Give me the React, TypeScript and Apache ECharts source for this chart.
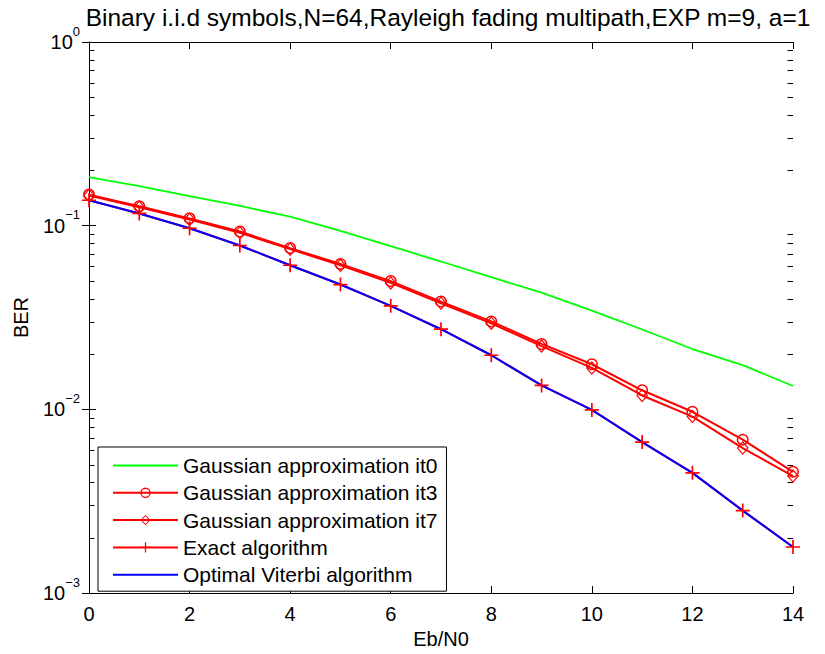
import React, { useEffect, useRef } from "react";
import * as echarts from "echarts";

const ebn0 = [0, 1, 2, 3, 4, 5, 6, 7, 8, 9, 10, 11, 12, 13, 14];
const gaussIt0 = [0.184, 0.164, 0.145, 0.128, 0.112, 0.0938, 0.0773, 0.0638, 0.0524, 0.0432, 0.0345, 0.0272, 0.0213, 0.0174, 0.0134];
const gaussIt3 = [0.1476, 0.1276, 0.1096, 0.0929, 0.0755, 0.0619, 0.0499, 0.0386, 0.0301, 0.0227, 0.0176, 0.0127, 0.0097, 0.00684, 0.00457];
const gaussIt7 = [0.146, 0.126, 0.108, 0.0915, 0.0745, 0.0608, 0.0488, 0.0378, 0.0294, 0.0221, 0.0168, 0.0119, 0.00913, 0.00615, 0.00433];
const exactAlg = [0.1375, 0.1166, 0.0968, 0.078, 0.0609, 0.0478, 0.0366, 0.0273, 0.0197, 0.0135, 0.00993, 0.00663, 0.00451, 0.00281, 0.00178];
const viterbi = [0.1375, 0.1166, 0.0968, 0.078, 0.0609, 0.0478, 0.0366, 0.0273, 0.0197, 0.0135, 0.00993, 0.00663, 0.00451, 0.00281, 0.00178];

const seriesNames = [
  "Gaussian approximation it0",
  "Gaussian approximation it3",
  "Gaussian approximation it7",
  "Exact algorithm",
  "Optimal Viterbi algorithm",
];
const titleText = "Binary i.i.d symbols,N=64,Rayleigh fading multipath,EXP m=9, a=1";
const xName = "Eb/N0";
const yName = "BER";
const xMin = 0;
const xMax = 14;
const minorMantissas = [2, 3, 4, 5, 6, 7, 8, 9];
const minorDecades = [0.001, 0.01, 0.1];

const FONT = "'Liberation Sans', Arial, Helvetica, sans-serif";

const ringPath =
  "path://M0,-6A6,6 0 1,1 0,6A6,6 0 1,1 0,-6Z M0,-4.5A4.5,4.5 0 1,0 0,4.5A4.5,4.5 0 1,0 0,-4.5Z";
const diamondPath = "path://M0,-7L6,0L0,7L-6,0Z M0,-5.2L-4.4,0L0,5.2L4.4,0Z";
const plusPath = "path://M-0.85,-7H0.85V7H-0.85Z M-7,-0.85H7V0.85H-7Z";

function pairs(ys: number[]) {
  return ebn0.map((x, i) => [x, ys[i]]);
}

export default function App() {
  const ref = useRef<HTMLDivElement>(null);
  useEffect(() => {
    if (!ref.current) return;
    const chart = echarts.init(ref.current, null, { renderer: "svg" });
    const minorData: number[][] = [];
    minorDecades.forEach((d) =>
      minorMantissas.forEach((m) => {
        minorData.push([xMin, m * d]);
        minorData.push([xMax, m * d]);
      })
    );

    const axisLine = { show: true, lineStyle: { color: "#000", width: 1 } };
    const tick = { show: true, inside: true, length: 7, lineStyle: { color: "#000", width: 1 } };
    const hideIcon = { itemStyle: { opacity: 0 } };

    const option: any = {
      animation: false,
      backgroundColor: "#fff",
      textStyle: { fontFamily: FONT, color: "#000" },
      grid: { left: 89, top: 42, right: 32, bottom: 56, containLabel: false },
      graphic: [
        {
          type: "text",
          x: 448,
          y: 17,
          style: {
            text: titleText,
            font: `24.5px ${FONT}`,
            fill: "#000",
            textAlign: "center",
            textVerticalAlign: "middle",
          },
        },
      ],
      legend: {
        orient: "vertical",
        left: 98,
        top: 447,
        z: 6,
        data: [
          { name: seriesNames[0], ...hideIcon },
          { name: seriesNames[1] },
          { name: seriesNames[2] },
          { name: seriesNames[3] },
          { name: seriesNames[4], ...hideIcon },
        ],
        backgroundColor: "#fff",
        borderColor: "#000",
        borderWidth: 1,
        borderRadius: 0,
        padding: [8, 9, 6, 14],
        itemGap: 6.3,
        itemWidth: 65,
        itemHeight: 13,
        textStyle: { fontSize: 21, fontFamily: FONT, color: "#000", lineHeight: 20 },
        selectedMode: false,
      },
      xAxis: [
        {
          type: "value",
          min: xMin,
          max: xMax,
          interval: 2,
          position: "bottom",
          axisLine,
          axisTick: tick,
          splitLine: { show: false },
          axisLabel: { fontSize: 20, color: "#000", margin: 11, fontFamily: FONT },
          name: xName,
          nameLocation: "middle",
          nameGap: 36,
          nameTextStyle: { fontSize: 20, color: "#000", fontFamily: FONT },
        },
        {
          type: "value",
          min: xMin,
          max: xMax,
          interval: 2,
          position: "top",
          axisLine,
          axisTick: tick,
          splitLine: { show: false },
          axisLabel: { show: false },
        },
      ],
      yAxis: [
        {
          type: "log",
          logBase: 10,
          min: 0.001,
          max: 1,
          position: "left",
          axisLine,
          axisTick: tick,
          splitLine: { show: false },
          minorTick: { show: false },
          axisLabel: {
            margin: 9,
            color: "#000",
            formatter: (v: number) => {
              const e = Math.round(Math.log10(v));
              const s = e === 0 ? "0" : "\u2212" + String(-e);
              return `{b|10}{s|${s}}`;
            },
            rich: {
              b: { fontSize: 20, fontFamily: FONT, color: "#000" },
              s: { fontSize: 13, fontFamily: FONT, color: "#000", padding: [0, 0, 22, 0] },
            },
          },
          name: yName,
          nameLocation: "middle",
          nameGap: 58,
          nameTextStyle: { fontSize: 20, color: "#000", fontFamily: FONT },
        },
        {
          type: "log",
          logBase: 10,
          min: 0.001,
          max: 1,
          position: "right",
          axisLine,
          axisTick: tick,
          minorTick: { show: false },
          splitLine: { show: false },
          axisLabel: { show: false },
        },
      ],
      series: [
        {
          name: seriesNames[0],
          type: "line",
          data: pairs(gaussIt0),
          symbol: "none",
          color: "#00ff00",
          lineStyle: { color: "#00ff00", width: 1.8 },
          emphasis: { disabled: true },
        },
        {
          name: seriesNames[1],
          type: "line",
          data: pairs(gaussIt3),
          symbol: ringPath,
          symbolSize: 12,
          color: "#ff0000",
          itemStyle: { color: "#ff0000" },
          lineStyle: { color: "#ff0000", width: 2 },
          emphasis: { disabled: true },
        },
        {
          name: seriesNames[2],
          type: "line",
          data: pairs(gaussIt7),
          symbol: diamondPath,
          symbolSize: [12, 14],
          color: "#ff0000",
          itemStyle: { color: "#ff0000" },
          lineStyle: { color: "#ff0000", width: 2 },
          emphasis: { disabled: true },
        },
        {
          name: seriesNames[3],
          type: "line",
          data: pairs(exactAlg),
          symbol: plusPath,
          symbolSize: 14,
          color: "#ff0000",
          itemStyle: { color: "#ff0000" },
          lineStyle: { color: "#ff0000", width: 2 },
          emphasis: { disabled: true },
        },
        {
          name: seriesNames[4],
          type: "line",
          data: pairs(viterbi),
          symbol: "none",
          color: "#0000ff",
          lineStyle: { color: "#0000ff", width: 2 },
          emphasis: { disabled: true },
        },
        {
          type: "custom",
          name: "minor-ticks",
          silent: true,
          clip: false,
          z: 1,
          data: minorData,
          renderItem: (_p: any, api: any) => {
            const xv = api.value(0);
            const v = api.value(1);
            const pt = api.coord([xv, v]);
            const dir = xv === xMin ? 1 : -1;
            const y = Math.round(pt[1]) + 0.5;
            return {
              type: "line",
              shape: { x1: pt[0], y1: y, x2: pt[0] + dir * 5.5, y2: y },
              style: { stroke: "#000", lineWidth: 1 },
            };
          },
        },
      ],
    };
    chart.setOption(option);
    return () => chart.dispose();
  }, []);
  return (
    <div
      ref={ref}
      style={{ position: "absolute", left: 0, top: 0, width: 825, height: 654, background: "#fff" }}
    />
  );
}
